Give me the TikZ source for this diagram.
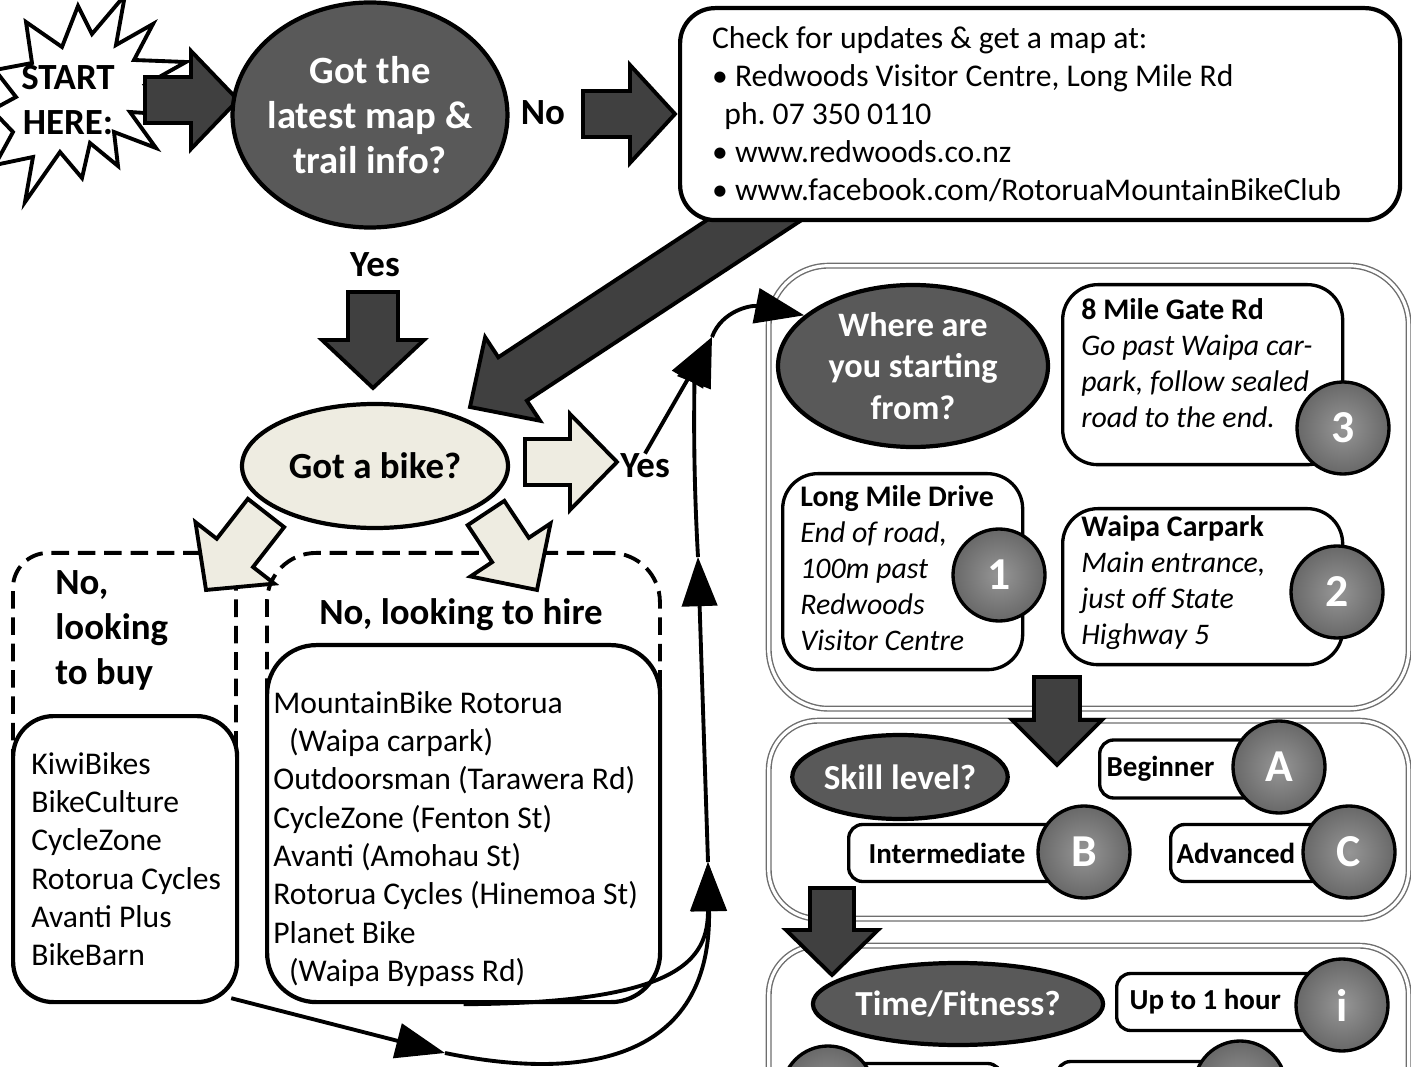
\documentclass[tikz,border=0pt]{standalone}
\usepackage{fontspec}
\setmainfont{Carlito}
\usetikzlibrary{shapes.geometric,arrows.meta,calc}

\definecolor{arrowgray}{RGB}{64,64,64}
\definecolor{askgray}{RGB}{89,89,89}
\definecolor{paletan}{RGB}{238,236,225}
\definecolor{badgelight}{RGB}{150,150,150}
\definecolor{badgedark}{RGB}{104,104,104}
\definecolor{panelgray}{RGB}{110,110,110}

\newcommand{\px}{0.02cm}
\newcommand{\pxpt}{0.569055pt}
% block arrow: style, from, to, half shaft, half head, head length (px)
\newcommand{\blockarrow}[6]{%
  \draw[#1] let \p1=($(#3)-(#2)$), \n1={atan2(\y1,\x1)},
    \n2={veclen(\x1,\y1)} in
    {[shift={(#2)},rotate=\n1]
      (0pt,{-#4*\pxpt}) -- ({\n2-#6*\pxpt},{-#4*\pxpt}) -- ({\n2-#6*\pxpt},{-#5*\pxpt})
      -- (\n2,0pt) -- ({\n2-#6*\pxpt},{#5*\pxpt}) -- ({\n2-#6*\pxpt},{#4*\pxpt})
      -- (0pt,{#4*\pxpt}) -- cycle};}

\tikzset{
  darkarrow/.style={draw=black, line width=2.2pt, fill=arrowgray, line join=miter},
  palearrow/.style={draw=black, line width=2.2pt, fill=paletan, line join=miter},
  question/.style={ellipse, draw=black, line width=2.4pt, fill=askgray, text=white,
    inner sep=0pt, align=center},
  infobox/.style={rectangle, draw=black, line width=2.4pt, fill=white, rounded corners=20pt},
  listbox/.style={rectangle, draw=black, line width=2.4pt, fill=white},
  dashbox/.style={rectangle, draw=black, line width=2.2pt, dash pattern=on 10pt off 5pt},
  panel/.style={rectangle, draw=panelgray, double=white, double distance=1.8pt,
    line width=0.8pt, anchor=north west},
  stopbox/.style={rectangle, draw=black, line width=1.9pt, fill=white,
    rounded corners=20pt, anchor=north west},
  tagbox/.style={rectangle, draw=black, line width=1.9pt, fill=white, rounded corners=8pt,
    anchor=west, align=flush left, font=\fontsize{16.5}{19}\selectfont\bfseries},
  badge/.style={circle, draw=black, line width=1.9pt, inner color=badgelight,
    outer color=badgedark, text=white,
    minimum size=92*\px, inner sep=0pt, font=\fontsize{26}{30}\selectfont\bfseries},
  listtext/.style={anchor=north west, align=left, inner sep=0pt,
    font=\fontsize{18}{21.8}\selectfont},
  stoptext/.style={anchor=north west, align=left, inner sep=0pt,
    font=\fontsize{17}{20.5}\selectfont},
  answer/.style={inner sep=0pt, font=\fontsize{21}{25.6}\selectfont\bfseries},
  flow/.style={line width=2.2pt, -{Triangle[length=28pt,width=20pt]}},
}

\begin{document}
\begin{tikzpicture}[x=0.02cm,y=-0.02cm]
\useasboundingbox (0,0) rectangle (1411,1067);
\clip (0,0) rectangle (1411,1067);

% panels on the right
\node[panel, rounded corners=34pt, minimum width=640*\px, minimum height=443*\px] (startpanel) at (768,265) {};
\node[panel, rounded corners=28pt, minimum width=640*\px, minimum height=198*\px] (skillpanel) at (768,720) {};
\node[panel, rounded corners=28pt, minimum width=640*\px, minimum height=300*\px] (timepanel) at (768,945) {};

% start burst
\draw[line width=2.2pt, fill=white, line join=miter]
  (125,-5) -- (116,45) -- (153,24) -- (134,60) -- (186,62) -- (145,85) -- (175,115)
  -- (130,112) -- (156,148) -- (114,132) -- (118,166) -- (90,143) -- (82,178)
  -- (60,152) -- (25,202) -- (33,157) -- (-5,165) -- (13,132) -- (-8,110)
  -- (16,97) -- (-5,70) -- (32,63) -- (26,22) -- (62,47) -- (78,6) -- (92,34) -- cycle;
\node[answer, align=center] (start) at (68,100) {START\\HERE:};
\blockarrow{darkarrow}{145,100}{238,100}{23}{49}{47}

\node[question, minimum width=270*\px, minimum height=225*\px, inner xsep=-3pt,
  font=\fontsize{22}{25.6}\selectfont\bfseries] (map) at (370,115) {Got the\\latest map \&\\trail info?};
\node[answer] (no) at (543,113) {No};
\blockarrow{darkarrow}{583,114}{675,114}{23}{49}{45}

% back to the bike question
\blockarrow{darkarrow}{800,190}{470,407}{26}{50}{51}
\node[infobox, anchor=north west, minimum height=212*\px, text width=656*\px,
  inner xsep=32*\px, align=flush left, font=\fontsize{18}{21.6}\selectfont] (info) at (678,6)
  {Check for updates \& get a map at:\\
   \textbullet\ Redwoods Visitor Centre, Long Mile Rd\\
   \hspace*{7pt}ph.\ 07 350 0110\\
   \textbullet\ www.redwoods.co.nz\\
   \textbullet\ www.facebook.com/RotoruaMountainBikeClub};

\node[answer] (yes1) at (375,265) {Yes};
\blockarrow{darkarrow}{373,292}{373,388}{25}{51}{48}

% shops
\node[dashbox, rounded corners=20pt, minimum width=223*\px, minimum height=350*\px, anchor=north west] (buyzone) at (11,551) {};
\node[dashbox, rounded corners=28pt, minimum width=393*\px, minimum height=350*\px, anchor=north west] (hirezone) at (265,551) {};
\node[answer, align=left, anchor=north west] (buylabel) at (55,570) {No,\\looking\\to buy};
\node[answer] (hirelabel) at (461,615) {No, looking to hire};
\node[listbox, rounded corners=23pt, minimum width=224*\px, minimum height=286*\px, anchor=north west] (buy) at (11,714) {};
\node[listbox, rounded corners=28pt, minimum width=393*\px, minimum height=357*\px, anchor=north west] (hire) at (265,643) {};
\node[listtext] (buylist) at (31,752)
  {KiwiBikes\\BikeCulture\\CycleZone\\Rotorua Cycles\\Avanti Plus\\BikeBarn};
\node[listtext] (hirelist) at (273,691)
  {MountainBike Rotorua\\\hspace*{9pt}(Waipa carpark)\\Outdoorsman (Tarawera Rd)\\CycleZone (Fenton St)\\
   Avanti (Amohau St)\\Rotorua Cycles (Hinemoa St)\\Planet Bike\\\hspace*{9pt}(Waipa Bypass Rd)};

\node[question, fill=paletan, text=black, minimum width=266*\px, minimum height=124*\px,
  font=\fontsize{21}{25.6}\selectfont\bfseries] (bike) at (375,466) {Got a bike?};
\blockarrow{palearrow}{525,462}{617,462}{23}{48}{47}
\blockarrow{palearrow}{266,513}{206,590}{23}{50}{47}
\blockarrow{palearrow}{486,513}{537,590}{22}{48}{48}
\node[answer] (yes2) at (645,466) {Yes};

% starting points
\node[question, minimum width=270*\px, minimum height=162*\px, inner ysep=-3pt,
  font=\fontsize{19.5}{23.6}\selectfont\bfseries] (where) at (913,366) {Where are\\you starting\\from?};
\node[stopbox, minimum width=280*\px, minimum height=180*\px] (gate) at (1061,283) {};
\node[stopbox, minimum width=240*\px, minimum height=196*\px] (longmile) at (781,472) {};
\node[stopbox, minimum width=280*\px, minimum height=156*\px] (waipa) at (1061,507) {};
\node[stoptext] (gatetext) at (1081,298)
  {\textbf{8 Mile Gate Rd}\\\textit{Go past Waipa car-}\\\textit{park, follow sealed}\\\textit{road to the end.}};
\node[stoptext] (longmiletext) at (800,485)
  {\textbf{Long Mile Drive}\\\textit{End of road,}\\\textit{100m past}\\\textit{Redwoods}\\\textit{Visitor Centre}};
\node[stoptext] (waipatext) at (1081,515)
  {\textbf{Waipa Carpark}\\\textit{Main entrance,}\\\textit{just off State}\\\textit{Highway 5}};
\node[badge] (b3) at (1343,428) {3};
\node[badge] (b1) at (999,575) {1};
\node[badge] (b2) at (1337,592) {2};

% skill
\node[question, minimum width=214*\px, minimum height=84*\px,
  font=\fontsize{20}{24}\selectfont\bfseries] (skill) at (900,777) {Skill level?};
\node[tagbox, text width=180*\px, inner xsep=7*\px, minimum height=58*\px] (beginner) at (1098,769) {Beginner};
\node[tagbox, text width=203*\px, inner xsep=20*\px, minimum height=57*\px] (intermediate) at (847,853) {Intermediate};
\node[tagbox, text width=174*\px, inner xsep=6*\px, minimum height=57*\px] (advanced) at (1169,853) {Advanced};
\node[badge] (bA) at (1279,767) {A};
\node[badge] (bB) at (1084,852) {B};
\node[badge] (bC) at (1349,852) {C};

% time and fitness
\node[question, minimum width=284*\px, minimum height=82*\px,
  font=\fontsize{20}{24}\selectfont\bfseries] (fitness) at (958,1004) {Time/Fitness?};
\node[tagbox, text width=204*\px, inner xsep=13*\px, minimum height=57*\px] (hour) at (1115,1002) {Up to 1 hour};
\node[tagbox, text width=150*\px, inner xsep=0pt, minimum height=57*\px] (lowtag1) at (850,1092) {};
\node[tagbox, text width=190*\px, inner xsep=0pt, minimum height=57*\px] (lowtag2) at (1055,1090) {};
\node[badge] (bi) at (1342,1005) {i};
\node[badge] (blow1) at (828,1092) {};
\node[badge] (blow2) at (1240,1087) {};

\blockarrow{darkarrow}{1057,677}{1057,765}{23}{45}{45}
\blockarrow{darkarrow}{832,888}{832,975}{22}{46}{45}

% connectors
\coordinate (m1) at (445,1053);
\coordinate (m2) at (708,862);
\coordinate (m3) at (698,557);
\coordinate (m4) at (712,337);
\draw[flow] ([shift={(-8,-6)}]buy.south east) -- (m1);
\draw[flow] (m1) .. controls (600,1085) and (712,1050) .. (m2);
\draw[flow] (hire.south) .. controls (680,1003) and (708,960) .. (m2);
\draw[flow] (m2) -- (m3);
\draw[flow] (m3) .. controls (692,450) and (695,380) .. (m4);
\draw[flow] (yes2.north) -- (m4);
\draw[flow] (m4) .. controls (722,310) and (752,305) .. (where.155);

\end{tikzpicture}
\end{document}
